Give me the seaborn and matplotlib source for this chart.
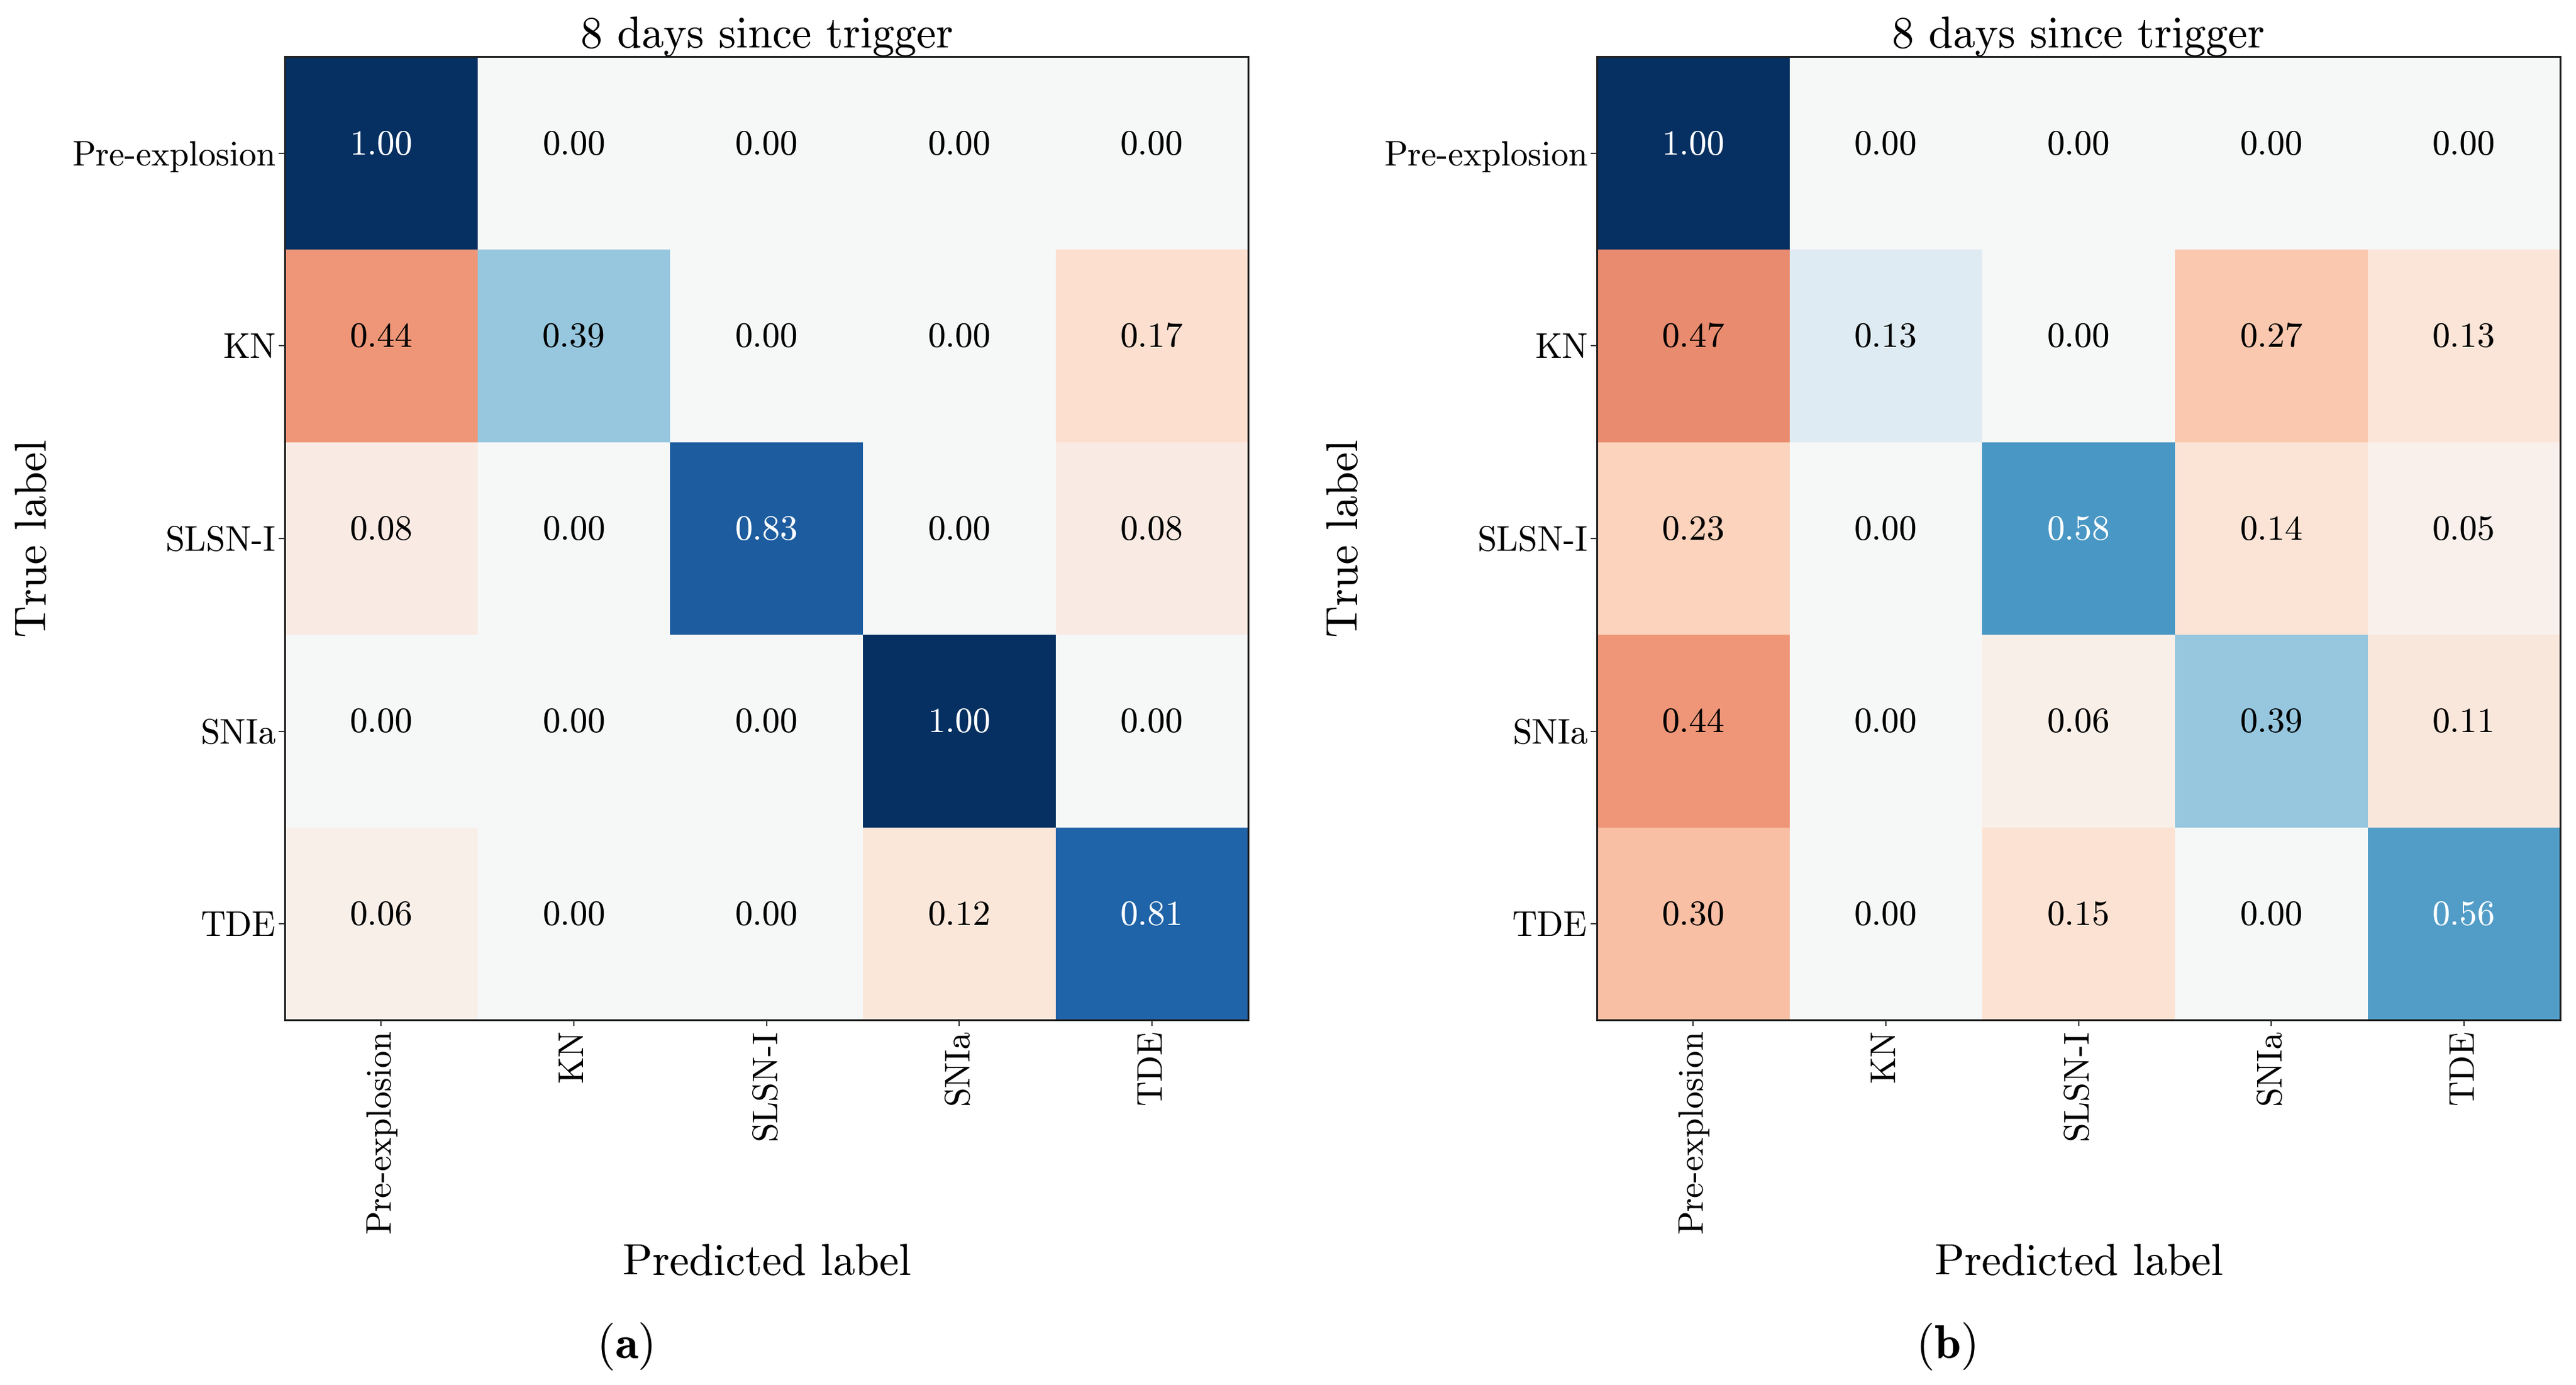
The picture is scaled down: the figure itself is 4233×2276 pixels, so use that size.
import matplotlib
matplotlib.use('Agg')
import matplotlib.pyplot as plt
import numpy as np
import seaborn as sns

plt.rcParams['font.family'] = 'cmr10'
plt.rcParams['mathtext.fontset'] = 'cm'
plt.rcParams['axes.unicode_minus'] = False
plt.rcParams['axes.formatter.use_mathtext'] = True

classes = ['Pre-explosion', 'KN', 'SLSN-I', 'SNIa', 'TDE']
title = '8 days since trigger'

# row = true label, column = predicted label
cm_a = np.array([
    [1.00, 0.00, 0.00, 0.00, 0.00],
    [0.44, 0.39, 0.00, 0.00, 0.17],
    [0.08, 0.00, 0.83, 0.00, 0.08],
    [0.00, 0.00, 0.00, 1.00, 0.00],
    [0.06, 0.00, 0.00, 0.12, 0.81],
])
cm_b = np.array([
    [1.00, 0.00, 0.00, 0.00, 0.00],
    [0.47, 0.13, 0.00, 0.27, 0.13],
    [0.23, 0.00, 0.58, 0.14, 0.05],
    [0.44, 0.00, 0.06, 0.39, 0.11],
    [0.30, 0.00, 0.15, 0.00, 0.56],
])
panel_tags = ['a', 'b']


def plot_cm(ax, cm):
    # diagonal shown in blue, misclassifications in red
    signed = np.where(np.eye(len(cm), dtype=bool), cm, -cm)
    labels = np.array([[f'{v:.2f}' for v in row] for row in cm])
    sns.heatmap(signed, cmap='RdBu', vmin=-1, vmax=1, annot=labels, fmt='',
                cbar=False, square=True, ax=ax, annot_kws={'size': 42},
                xticklabels=classes, yticklabels=classes)
    for txt, v in zip(ax.texts, signed.ravel()):
        txt.set_color('white' if v > 0.5 else 'black')
        x, y = txt.get_position()
        txt.set_position((x, y - 0.04))
    for s in ax.spines.values():
        s.set_visible(True)
        s.set_linewidth(2.2)
        s.set_color('#222222')
    ax.tick_params(axis='both', labelsize=41, length=7, width=1.2, pad=4)
    plt.setp(ax.get_xticklabels(), rotation=90)
    plt.setp(ax.get_yticklabels(), rotation=0, va='center_baseline')
    ax.set_title(title, fontsize=52, pad=9)
    ax.set_xlabel('Predicted label', fontsize=52)
    ax.set_ylabel('True label', fontsize=52)
    ax.xaxis.set_label_coords(0.5, -0.2525)
    ax.xaxis.label.set_va('center')
    ax.yaxis.set_label_coords(-0.2596, 0.5)
    ax.yaxis.label.set_va('center')


fig = plt.figure(figsize=(42.33, 22.76), dpi=100)
ax_a = fig.add_axes([0.1106, 0.2632, 0.374, 0.696])
ax_b = fig.add_axes([0.6199, 0.2632, 0.374, 0.696])

plot_cm(ax_a, cm_a)
plot_cm(ax_b, cm_b)

for xpos, tag in zip([0.2424, 0.7553], panel_tags):
    fig.text(xpos, 1 - 2212 / 2276, r'($\mathbf{' + tag + r'}$)',
             ha='center', va='center', fontsize=56)

fig.savefig('out.png', dpi=100)
